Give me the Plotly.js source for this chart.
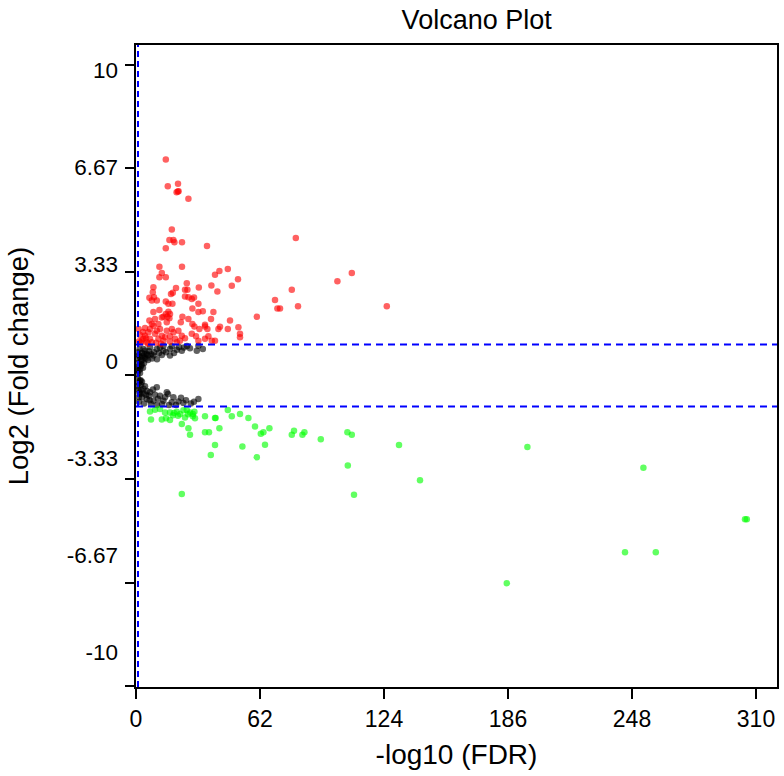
<!DOCTYPE html>
<html>
<head>
<meta charset="utf-8">
<script src="https://cdn.plot.ly/plotly-3.0.1.min.js"></script>
<style>html,body{margin:0;padding:0;background:#fff;}#chart{width:784px;height:776px;}</style>
</head>
<body>
<div id="chart"></div>
<script>
// ---- data: x = -log10(FDR), y = log2(fold change) ----
const upX = [14.9,15.9,21.0,20.9,20.3,21.3,26.2,17.9,16.7,18.7,19.2,23.0,14.9,35.5,79.9,
  107.9,100.7,77.9,81.0,125.4,72.0,
  11.7,23.0,12.9,11.7,14.9,41.7,39.5,45.9,51.0,25.4,24.5,25.7,20.0,8.7,31.4,37.7,47.9,40.7,69.5,70.7,
  8.4,6.7,9.0,7.9,10.4,18.4,17.5,24.5,26.2,29.0,27.9,14.9,16.2,18.2,31.2,28.2,33.4,31.2,38.7,11.7,8.7,
  14.9,15.7,16.7,13.7,12.9,23.2,26.2,37.5,60.4,47.0,22.4,6.7,28.2,29.2,31.7,34.5,42.0,41.2,45.9,51.2,52.0,52.0,
  4.5,8.7,11.2,12.0,15.4,10.4,6.2,9.5,12.9,4.5,3.7,7.0,11.2,14.5,17.9,18.7,17.0,22.9,24.5,22.0,27.9,30.0,
  31.2,34.5,36.2,37.9,39.5,35.7,34.5,21.2,2.9,5.4,7.9,13.7,17.0,19.5,20.4,15.4,7.9,7.0,9.5,17.0,16.2,
  1.5,2.0,2.5,1.3,5.0,10.0,6.0,12.5,3.5];
const upY = [6.95,6.09,6.17,5.92,5.90,5.93,5.69,4.70,4.36,4.36,4.29,4.29,4.10,4.17,4.43,
  3.30,3.03,2.76,2.23,2.23,2.16,
  3.50,3.50,3.30,3.16,3.16,3.36,3.24,3.43,3.10,2.97,2.76,2.76,2.82,2.84,2.83,2.90,2.89,2.70,2.43,2.16,
  2.68,2.50,2.52,2.41,2.41,2.66,2.62,2.54,2.52,2.51,2.46,2.38,2.31,2.31,2.31,2.16,2.07,2.04,2.04,2.11,2.04,
  1.98,1.89,1.84,1.89,1.87,1.89,1.82,1.82,1.89,1.77,1.71,1.77,1.66,1.58,1.50,1.58,1.57,1.50,1.50,1.55,1.34,1.23,
  1.53,1.60,1.66,1.50,1.44,1.44,1.39,1.34,1.28,1.28,1.18,1.18,1.18,1.23,1.50,1.39,1.26,1.28,1.20,1.12,1.34,1.26,
  1.12,1.18,1.26,1.12,1.12,1.50,1.63,1.44,1.12,1.07,1.07,1.12,1.09,1.18,1.07,1.71,1.66,1.50,1.82,1.98,2.05,
  1.10,1.30,1.05,1.50,1.20,1.05,1.02,1.02,1.40];

const downX = [7.0,7.5,12.9,15.0,17.0,14.5,17.0,19.0,20.4,22.0,23.7,25.4,27.0,28.4,29.2,28.4,29.5,22.9,26.2,27.0,
  34.5,39.5,39.8,34.5,36.5,41.7,39.5,37.4,45.9,47.9,52.0,56.2,59.5,62.4,63.7,66.7,53.2,64.5,60.4,
  77.9,79.0,83.2,84.2,92.4,22.9,105.7,107.9,131.5,105.9,142.0,109.0,195.7,253.7,304.5,305.4,244.5,259.9,185.4,
  9.5,12.0,18.5,21.0,24.5,26.0];
const downY = [-1.16,-1.42,-1.42,-1.38,-1.43,-1.19,-1.19,-1.21,-1.17,-1.24,-1.12,-1.11,-1.19,-1.24,-1.17,-1.31,-1.38,-1.56,-1.70,-1.91,
  -1.31,-1.37,-1.37,-1.83,-1.83,-1.70,-2.24,-2.56,-1.11,-1.31,-1.24,-1.37,-1.64,-1.88,-1.83,-1.70,-2.29,-2.23,-2.63,
  -1.91,-1.78,-1.91,-1.83,-2.05,-3.82,-1.83,-1.91,-2.24,-2.90,-3.37,-3.84,-2.30,-2.97,-4.63,-4.63,-5.69,-5.69,-6.69,
  -1.10,-1.08,-1.28,-1.30,-1.35,-1.25];

const nsX = [3.7,7.0,10.4,13.7,17.0,20.4,22.9,27.0,30.4,33.4,31.2,5.4,8.7,12.9,17.0,2.0,4.5,13.7,17.9,
  1.0,1.5,2.0,2.5,3.0,4.0,5.0,6.0,1.2,2.0,1.5,3.0,8.0,10.5,6.5,9.0,11.5,15.0,19.0,24.0,2.5,3.5,1.0,0.8,4.5,7.5,12.0,25.5,21.5,
  2.0,3.7,7.0,10.4,15.4,16.0,21.2,23.7,27.4,31.2,17.9,13.7,8.7,5.4,12.0,18.7,1.0,1.5,2.5,3.0,4.5,5.5,1.2,2.0,3.0,
  6.5,8.5,9.5,11.0,14.5,20.0,25.0,4.0,1.5,7.5,10.5,13.0,16.5,22.5,29.0,
  0.5,0.7,1.8,2.8,3.3,4.2,6.0,1.7,2.3,3.8,5.0,6.8,0.6,1.4,2.6];
const nsY = [0.85,0.91,0.85,0.80,0.85,0.83,0.80,0.88,0.80,0.85,0.96,0.69,0.64,0.66,0.64,0.59,0.59,0.96,0.94,
  0.40,0.30,0.20,0.45,0.50,0.40,0.55,0.50,0.15,0.08,0.65,0.72,0.55,0.52,0.78,0.75,0.72,0.75,0.72,0.90,0.30,0.25,0.75,0.05,0.80,0.68,0.90,0.95,0.92,
  -0.17,-0.43,-0.54,-0.38,-0.54,-0.60,-0.84,-0.89,-0.90,-0.76,-0.86,-0.81,-0.81,-0.76,-0.65,-0.70,-0.10,-0.25,-0.30,-0.20,-0.35,-0.50,-0.45,-0.60,-0.70,
  -0.65,-0.45,-0.62,-0.75,-0.70,-0.95,-0.80,-0.90,-0.85,-0.92,-0.95,-0.92,-0.95,-0.72,-0.85,
  0.20,0.55,0.85,0.35,0.62,0.68,0.65,-0.55,-0.15,-0.58,-0.62,-0.80,-0.35,-0.70,-0.48];

const yTickVals = [10, 6.67, 3.33, 0, -3.33, -6.67, -10];
const yTickText = ['10', '6.67', '3.33', '0', '-3.33', '-6.67', '-10'];
const xTickVals = [0, 62, 124, 186, 248, 310];
const xTickText = ['0', '62', '124', '186', '248', '310'];

const fcCut = 1;            // |log2 FC| threshold
const fdrCut = 1.0;         // FDR threshold line on the -log10 axis

const mk = (c) => ({size: 6.5, color: c, line: {width: 0}});
const traces = [
  {type: 'scatter', mode: 'markers', x: nsX, y: nsY, marker: mk('rgba(0,0,0,0.62)'), hoverinfo: 'x+y'},
  {type: 'scatter', mode: 'markers', x: upX, y: upY, marker: mk('rgba(255,0,0,0.62)'), hoverinfo: 'x+y'},
  {type: 'scatter', mode: 'markers', x: downX, y: downY, marker: mk('rgba(0,255,0,0.62)'), hoverinfo: 'x+y'},
  {type: 'scatter', mode: 'markers', x: [null], y: [null], yaxis: 'y2', hoverinfo: 'skip', marker: {opacity: 0}}
];

const lineDash = '7px,5px';
const layout = {
  width: 784, height: 776,
  margin: {l: 136, r: 7, t: 45, b: 89},
  paper_bgcolor: '#fff', plot_bgcolor: '#fff',
  showlegend: false,
  font: {family: 'Liberation Sans, Arial, sans-serif', color: '#000'},
  title: {text: 'Volcano Plot', font: {size: 27, family: 'Liberation Sans, Arial, sans-serif', color: '#000'},
          x: 0.608, xanchor: 'center', y: 0.987, yanchor: 'top'},
  xaxis: {
    range: [0, 320.5], tickvals: xTickVals, ticktext: xTickText,
    ticks: 'outside', ticklen: 10, tickwidth: 2, tickcolor: '#000',
    showline: true, linewidth: 2, linecolor: '#000', mirror: true,
    showgrid: false, zeroline: false,
    tickfont: {size: 23},
    title: {text: '-log10 (FDR)', standoff: 14, font: {size: 28}}
  },
  yaxis: {
    range: [-10.03, 10.64], tickvals: yTickVals,
    showticklabels: false,
    ticks: 'outside', ticklen: 9, tickwidth: 2, tickcolor: '#000',
    showline: true, linewidth: 2, linecolor: '#000', mirror: true,
    showgrid: false, zeroline: false,
    title: {text: 'Log2 (Fold change)', standoff: 88, font: {size: 27.5}}
  },
  yaxis2: {
    overlaying: 'y', side: 'left', anchor: 'x',
    range: [-11.2, 10.86], tickvals: yTickVals, ticktext: yTickText,
    ticks: '', showline: false, showgrid: false, zeroline: false,
    ticklabelstandoff: 17,
    tickfont: {size: 22.5}
  },
  shapes: [
    {type: 'line', xref: 'x', yref: 'paper', x0: fdrCut, x1: fdrCut, y0: 0, y1: 1, layer: 'above',
     line: {color: '#0000ff', width: 2, dash: '6px,4px'}},
    {type: 'line', xref: 'paper', yref: 'y', x0: 0, x1: 1, y0: fcCut, y1: fcCut, layer: 'above',
     line: {color: '#0000ff', width: 2, dash: lineDash}},
    {type: 'line', xref: 'paper', yref: 'y', x0: 0, x1: 1, y0: -fcCut, y1: -fcCut, layer: 'above',
     line: {color: '#0000ff', width: 2, dash: lineDash}}
  ]
};

Plotly.newPlot('chart', traces, layout, {displayModeBar: false, staticPlot: true});
</script>
</body>
</html>
